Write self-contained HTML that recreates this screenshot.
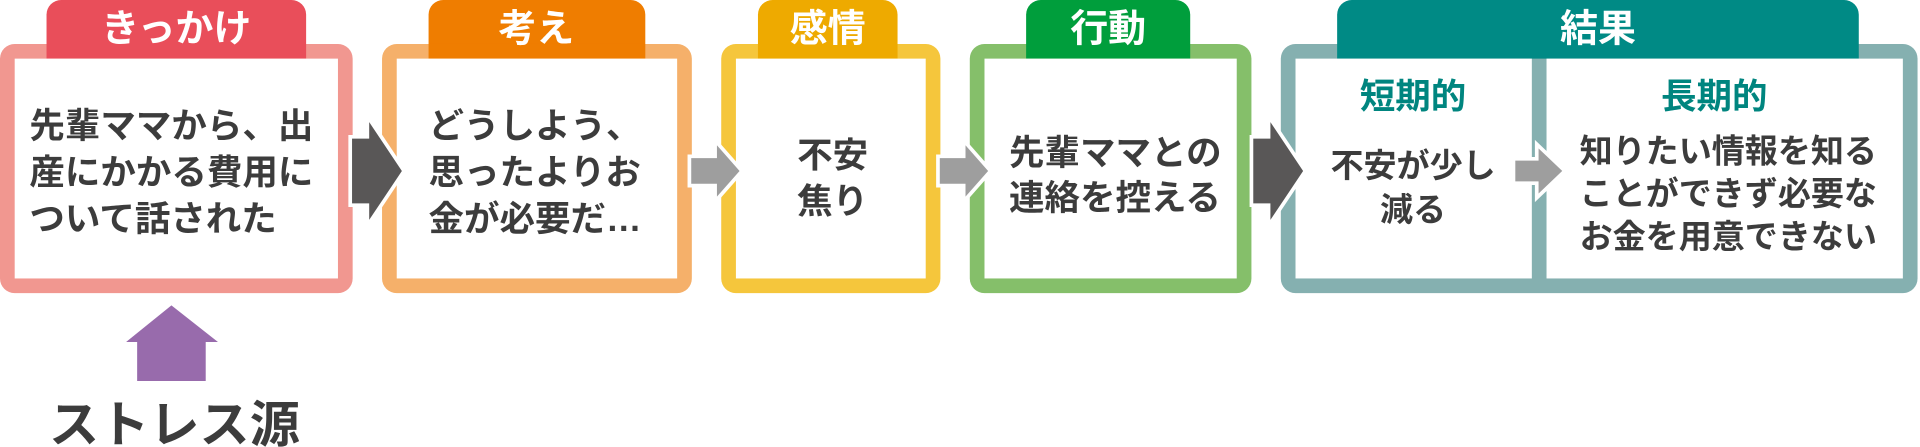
<!DOCTYPE html>
<html><head><meta charset="utf-8"><style>
html,body{margin:0;padding:0;background:#fff;}
svg{display:block;}
text{font-family:"Liberation Sans","Noto Sans CJK JP",sans-serif;font-weight:700;}
.t{fill:#3c3c3c;font-size:29px;}
.h{fill:#fff;font-size:31px;text-anchor:middle;}
</style></head><body>
<svg width="1920" height="447" viewBox="0 0 1568 366" preserveAspectRatio="none" xmlns="http://www.w3.org/2000/svg">
<!-- Box1 -->
<rect x="38" y="0" width="212" height="60" rx="12" fill="#e94e5a"/>
<rect x="0" y="36" width="288" height="204" rx="12" fill="#f19790"/>
<rect x="38" y="36" width="212" height="12" fill="#e94e5a"/>
<rect x="12" y="48" width="264" height="180" fill="#fff"/>
<text class="h" x="144" y="34">きっかけ</text>
<text class="t" x="24" y="113">先輩ママから、出</text>
<text class="t" x="24" y="151">産にかかる費用に</text>
<text class="t" x="24" y="189">ついて話された</text>
<!-- Box2 -->
<rect x="350" y="0" width="177" height="60" rx="12" fill="#ef7d00"/>
<rect x="312" y="36" width="253" height="204" rx="12" fill="#f5b06a"/>
<rect x="350" y="36" width="177" height="12" fill="#ef7d00"/>
<rect x="324" y="48" width="229" height="180" fill="#fff"/>
<text class="h" x="438" y="34">考え</text>
<text class="t" x="350" y="113">どうしよう、</text>
<text class="t" x="350" y="151">思ったよりお</text>
<text class="t" x="350" y="189">金が必要だ…</text>
<!-- Box3 -->
<rect x="619" y="0" width="114" height="60" rx="12" fill="#eeaa00"/>
<rect x="589" y="36" width="179" height="204" rx="12" fill="#f5c63c"/>
<rect x="619" y="36" width="114" height="12" fill="#eeaa00"/>
<rect x="601" y="48" width="155" height="180" fill="#fff"/>
<text class="h" x="676" y="34">感情</text>
<text class="t" x="680" y="137" text-anchor="middle">不安</text>
<text class="t" x="680" y="175" text-anchor="middle">焦り</text>
<!-- Box4 -->
<rect x="838" y="0" width="134" height="60" rx="12" fill="#009e3c"/>
<rect x="792" y="36" width="230" height="204" rx="12" fill="#85bf6a"/>
<rect x="838" y="36" width="134" height="12" fill="#009e3c"/>
<rect x="804" y="48" width="206" height="180" fill="#fff"/>
<text class="h" x="905" y="34">行動</text>
<text class="t" x="824" y="135">先輩ママとの</text>
<text class="t" x="824" y="172">連絡を控える</text>
<!-- Box5 -->
<rect x="1092" y="0" width="426" height="60" rx="12" fill="#008a85"/>
<rect x="1046" y="36" width="520" height="204" rx="12" fill="#85b0b0"/>
<rect x="1092" y="36" width="426" height="12" fill="#008a85"/>
<rect x="1058" y="48" width="193" height="180" fill="#fff"/>
<rect x="1263" y="48" width="291" height="180" fill="#fff"/>
<text class="h" x="1305" y="34">結果</text>
<text x="1154" y="89" text-anchor="middle" style="fill:#00857f;font-size:29px">短期的</text>
<text x="1400" y="89" text-anchor="middle" style="fill:#00857f;font-size:29px">長期的</text>
<text class="t" x="1154" y="145" text-anchor="middle" style="font-size:27px">不安が少し</text>
<text class="t" x="1154" y="181" text-anchor="middle" style="font-size:27px">減る</text>
<text class="t" x="1290" y="133" style="font-size:27px">知りたい情報を知る</text>
<text class="t" x="1290" y="168" style="font-size:27px">ことができず必要な</text>
<text class="t" x="1290" y="203" style="font-size:27px">お金を用意できない</text>
<!-- Arrows -->
<polygon points="286,112 300,112 300,95 330,140 300,185 300,168 286,168" fill="#595757" stroke="#fff" stroke-width="3"/>
<polygon points="1022,112 1036,112 1036,95 1066,140 1036,185 1036,168 1022,168" fill="#595757" stroke="#fff" stroke-width="3"/>
<polygon points="563,128 584,128 584,115 606,140 584,165 584,152 563,152" fill="#9e9e9e" stroke="#fff" stroke-width="3"/>
<polygon points="766,128 787,128 787,115 809,140 787,165 787,152 766,152" fill="#9e9e9e" stroke="#fff" stroke-width="3"/>
<polygon points="1236,130 1255,130 1255,118 1278,140 1255,162 1255,150 1236,150" fill="#9e9e9e" stroke="#fff" stroke-width="3"/>
<!-- Purple arrow -->
<polygon points="140,250 178,280 168,280 168,312 112,312 112,280 103,280" fill="#986bac"/>
<text x="40" y="362" style="fill:#3c3c3c;font-size:41px">ストレス源</text>
</svg>
</body></html>
